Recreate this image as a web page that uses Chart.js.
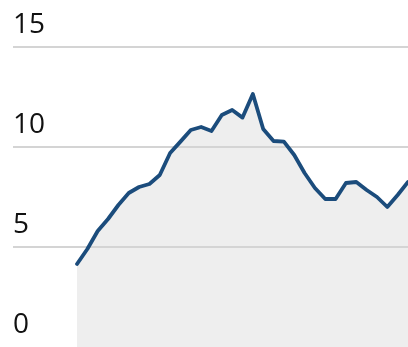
<!DOCTYPE html>
<html>
<head>
<meta charset="utf-8">
<script src="https://cdn.jsdelivr.net/npm/chart.js@4/dist/chart.umd.min.js"></script>
<style>
  html, body { margin: 0; padding: 0; background: #fff; }
  #wrap { width: 408px; height: 347px; position: relative; }
</style>
</head>
<body>
<div id="wrap"><canvas id="trend-chart"></canvas></div>
<script>
// series values, one per period
const periods = [0, 1, 2, 3, 4, 5, 6, 7, 8, 9, 10, 11, 12, 13, 14, 15, 16,
  17, 18, 19, 20, 21, 22, 23, 24, 25, 26, 27, 28, 29, 30, 31, 32];
const values = [4.15, 4.9, 5.8, 6.4, 7.1, 7.7, 8.0, 8.15, 8.6, 9.7, 10.27,
  10.85, 11.0, 10.8, 11.6, 11.85, 11.47, 12.65, 10.9, 10.3, 10.27, 9.6,
  8.7, 7.95, 7.4, 7.4, 8.2, 8.25, 7.85, 7.5, 7.0, 7.6, 8.25];
const yTicks = [0, 5, 10, 15];

// blank room left of the first period, in periods
const leadIn = 6.19;

new Chart(document.getElementById('trend-chart'), {
  type: 'line',
  data: {
    datasets: [{
      data: periods.map((p, i) => ({ x: p, y: values[i] })),
      borderColor: '#1b4c7c',
      backgroundColor: '#eeeeee',
      fill: 'origin',
      borderWidth: 3.8,
      borderJoinStyle: 'round',
      borderCapStyle: 'round',
      tension: 0,
      pointRadius: 0
    }]
  },
  options: {
    responsive: true,
    maintainAspectRatio: false,
    animation: false,
    layout: { padding: { top: 47, left: 13, right: 0, bottom: 0 } },
    plugins: {
      legend: { display: false },
      tooltip: { enabled: false },
      filler: { drawTime: 'beforeDraw' }   // fill under the gridlines
    },
    scales: {
      x: {
        type: 'linear',
        display: false,
        min: periods[0] - leadIn,
        max: periods[periods.length - 1]
      },
      y: {
        min: 0,
        max: 15,
        afterBuildTicks: s => { s.ticks = yTicks.map(v => ({ value: v })); },
        afterFit: s => { s.width = 0; s.paddingTop = 0; s.paddingBottom = 0; },
        border: { display: false },
        grid: {
          drawTicks: false,
          lineWidth: 2,
          color: ctx => ctx.tick && ctx.tick.value === 0 ? 'rgba(0,0,0,0)' : '#d4d4d4'
        },
        ticks: {
          mirror: true,
          padding: 0,
          labelOffset: -21.5,
          color: '#111111',
          font: { family: 'Open Sans', size: 28 }
        }
      }
    }
  }
});
</script>
</body>
</html>
